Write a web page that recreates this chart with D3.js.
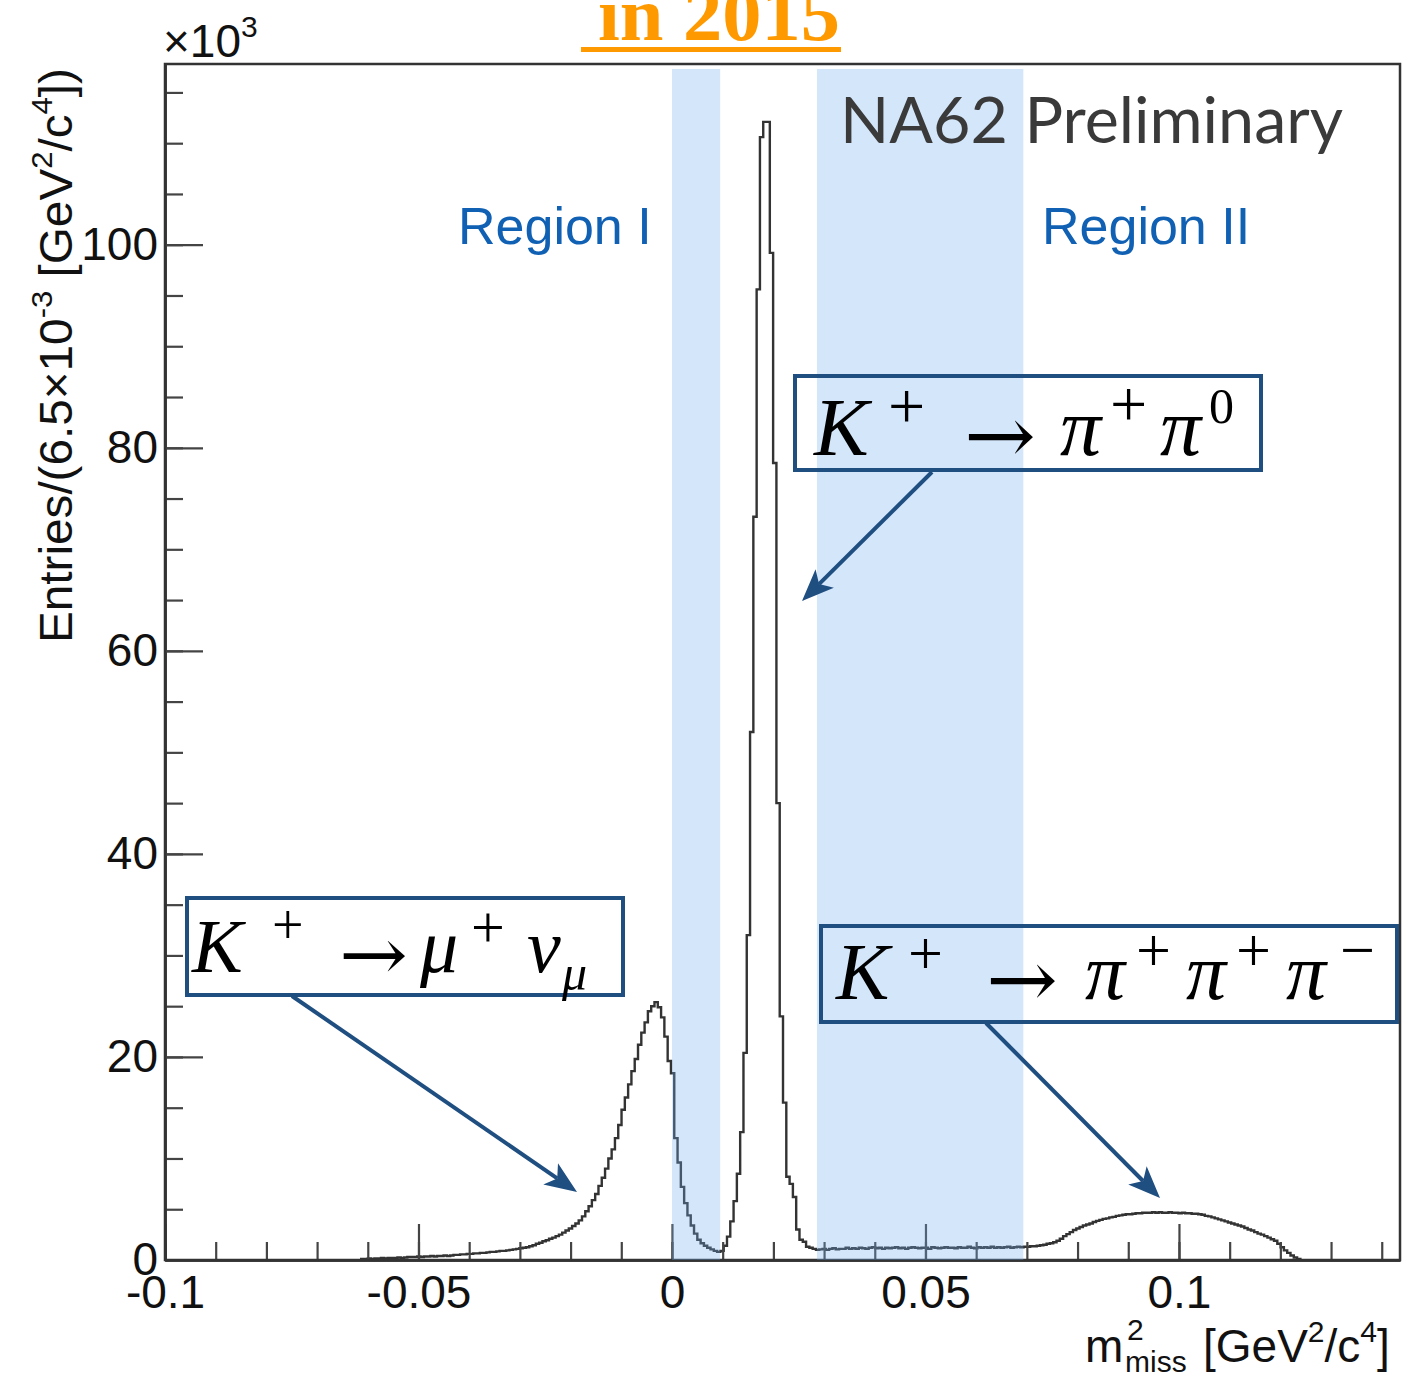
<!DOCTYPE html>
<html>
<head>
<meta charset="utf-8">
<script src="https://cdn.jsdelivr.net/npm/d3@7"></script>
<style>
  body { margin: 0; background: #fff; }
  svg { display: block; }
</style>
</head>
<body>
<script>
// histogram of m2miss, entries in thousands per bin (bin width 6.5e-4)
let binStart = -0.0613;
let binWidth = 0.00065;
let counts = [
  0.1,0.1,0.15,0.1,0.15,0.15,0.2,0.15,0.2,0.2,0.2,0.25,0.2,0.25,
  0.3,0.3,0.3,0.35,0.3,0.35,0.35,0.4,0.35,0.4,0.4,0.45,0.4,0.45,
  0.5,0.5,0.55,0.55,0.6,0.6,0.65,0.65,0.7,0.7,0.75,0.8,0.8,0.85,0.9,0.9,0.95,1.0,1.05,1.1,1.15,
  1.2,1.25,1.35,1.45,1.6,1.7,1.85,1.95,2.1,2.2,
  2.35,2.5,2.7,2.9,3.1,3.35,3.6,3.9,4.3,4.8,
  5.3,5.9,6.5,7.3,8.1,9.0,10.0,10.9,12.0,13.3,
  14.8,16.0,17.3,18.6,19.8,21.2,22.4,23.4,24.5,25.0,
  25.4,24.9,23.9,22.0,19.6,18.4,12.0,9.6,7.2,5.6,
  4.4,3.4,2.6,2.0,1.65,1.4,1.2,1.05,0.9,0.8,
  0.9,1.4,2.3,3.8,5.8,8.5,12.6,20.4,32,52,
  73.2,95.6,110.6,112.1,112.1,99.2,78.5,45,24,15.5,
  8.2,7.5,6.2,3.0,2.0,1.8,1.3,1.2,1.1,1.0,
  1.05,1.1,1.0,1.1,1.15,1.05,1.1,1.1,1.2,1.1,
  1.15,1.1,1.2,1.15,1.1,1.2,1.25,1.15,1.2,1.1,
  1.2,1.15,1.2,1.25,1.15,1.2,1.1,1.2,1.25,1.2,
  1.15,1.2,1.2,1.1,1.25,1.2,1.15,1.2,1.25,1.2,
  1.2,1.15,1.25,1.2,1.2,1.3,1.2,1.15,1.25,1.2,
  1.25,1.2,1.3,1.2,1.25,1.2,1.25,1.3,1.2,1.25,
  1.3,1.25,
  1.3,1.3,1.35,1.35,1.4,
  1.45,1.5,1.6,1.65,1.75,1.9,2.1,2.35,2.55,2.75,
  2.95,3.1,3.25,3.4,3.5,3.6,3.75,3.85,3.95,4.05,
  4.1,4.2,4.25,4.35,4.4,4.45,4.5,4.5,4.55,4.6,
  4.6,4.65,4.65,4.65,4.7,4.65,4.7,4.65,4.65,4.7,
  4.65,4.65,4.6,4.65,4.6,4.6,4.55,4.55,4.5,4.45,
  4.35,4.3,4.2,4.1,4.0,3.9,3.8,3.7,3.6,3.5,
  3.4,3.3,3.15,3.0,2.9,2.75,2.6,2.5,2.35,2.2,
  2.05,1.9,1.6,1.25,0.95,0.7,0.45,0.25,0.1
];
let xTicksMajor = [-0.1, -0.05, 0, 0.05, 0.1];
let xTickLabels = ['-0.1', '-0.05', '0', '0.05', '0.1'];
let yTicksMajor = [0, 20, 40, 60, 80, 100];
let yTickLabels = ['0', '20', '40', '60', '80', '100'];
// signal regions (shaded bands)
let regionNames = ['Region I', 'Region II'];
let regionLow = [0, 0.0286];
let regionHigh = [0.0095, 0.0693];

let width = 1404;
let height = 1375;
let svg = d3.select('body').append('svg')
   .attr('width', width)
   .attr('height', height)
   .style('font-family', '"Liberation Sans", Arial, sans-serif');

let xScale = d3.scaleLinear().domain([-0.1, 0.1436]).range([165, 1400]);
let yScale = d3.scaleLinear().domain([0, 117.8]).range([1260, 64]);

let darkBlue = '#1f4e80';
let textBlue = '#1060b4';

// title fragment cut at the top
svg.append('text')
   .attr('x', 598).attr('y', 40)
   .text('in 2015')
   .attr('fill', '#ff9900')
   .attr('textLength', 242).attr('lengthAdjust', 'spacingAndGlyphs')
   .style('font-family', '"Liberation Serif", "Times New Roman", serif')
   .style('font-weight', 'bold')
   .style('font-size', '76px');
svg.append('rect')
   .attr('x', 581).attr('y', 47).attr('width', 260).attr('height', 5)
   .attr('fill', '#ff9900');

// histogram
let points = [[binStart, 0]];
counts.forEach((v, i) => points.push([binStart + i * binWidth, v]));
points.push([binStart + counts.length * binWidth, counts[counts.length - 1]]);
points.push([binStart + counts.length * binWidth, 0]);

let line = d3.line()
   .x(d => xScale(d[0]))
   .y(d => yScale(d[1]))
   .curve(d3.curveStepAfter);

svg.append('path')
   .datum(points)
   .attr('d', line)
   .attr('fill', 'none')
   .attr('stroke', '#333')
   .attr('stroke-width', 2.4);

// axes (ROOT style, ticks pointing inwards)
let styleAxis = (g) => {
   g.select('.domain').attr('stroke', '#333').attr('stroke-width', 2.5);
   g.selectAll('.tick line').attr('stroke', '#444').attr('stroke-width', 2.2);
   g.selectAll('.tick text').attr('fill', '#111').style('font-size', '46px');
};

svg.append('g')
   .attr('transform', 'translate(0,1260)')
   .call(d3.axisBottom(xScale).tickValues(xScale.ticks(24)).tickSizeInner(-18).tickSizeOuter(0).tickFormat(''))
   .call(styleAxis);
svg.append('g')
   .attr('transform', 'translate(0,1260)')
   .call(d3.axisBottom(xScale).tickValues(xTicksMajor).tickSizeInner(-36).tickSizeOuter(0)
      .tickPadding(15).tickFormat((d, i) => xTickLabels[i]))
   .call(styleAxis);

svg.append('g')
   .attr('transform', 'translate(165,0)')
   .call(d3.axisLeft(yScale).tickValues(yScale.ticks(24)).tickSizeInner(-18).tickSizeOuter(0).tickFormat(''))
   .call(styleAxis);
svg.append('g')
   .attr('transform', 'translate(165,0)')
   .call(d3.axisLeft(yScale).tickValues(yTicksMajor).tickSizeInner(-38).tickSizeOuter(0)
      .tickPadding(7).tickFormat((d, i) => yTickLabels[i]))
   .call(styleAxis);

// frame
svg.append('rect')
   .attr('x', 165).attr('y', 64)
   .attr('width', 1400 - 165).attr('height', 1260 - 64)
   .attr('fill', 'none')
   .attr('stroke', '#333')
   .attr('stroke-width', 2.5);

// x10^3 multiplier
let mult = svg.append('text').attr('x', 163).attr('y', 57).style('font-size', '46px').attr('fill', '#111');
mult.append('tspan').text('\u00d710');
mult.append('tspan').attr('dy', -20).style('font-size', '30px').text('3');

// axis titles
let xt = svg.append('text').attr('fill', '#111').style('font-size', '46px');
xt.append('tspan').attr('x', 1085).attr('y', 1362).text('m');
xt.append('tspan').attr('x', 1127).attr('y', 1340).style('font-size', '30px').text('2');
xt.append('tspan').attr('x', 1125).attr('y', 1372).style('font-size', '30px').text('miss');
xt.append('tspan').attr('x', 1203).attr('y', 1362).text('[GeV');
xt.append('tspan').attr('dy', -20).style('font-size', '30px').text('2');
xt.append('tspan').attr('dy', 20).text('/c');
xt.append('tspan').attr('dy', -20).style('font-size', '30px').text('4');
xt.append('tspan').attr('dy', 20).text(']');

let yt = svg.append('text')
   .attr('transform', 'translate(72,643) rotate(-90)')
   .attr('textLength', 575).attr('lengthAdjust', 'spacingAndGlyphs')
   .attr('fill', '#111')
   .style('font-size', '46px');
yt.append('tspan').text('Entries/(6.5\u00d710');
yt.append('tspan').attr('dy', -20).style('font-size', '30px').text('-3');
yt.append('tspan').attr('dy', 20).text(' [GeV');
yt.append('tspan').attr('dy', -20).style('font-size', '30px').text('2');
yt.append('tspan').attr('dy', 20).text('/c');
yt.append('tspan').attr('dy', -20).style('font-size', '30px').text('4');
yt.append('tspan').attr('dy', 20).text('])');

// shaded regions
svg.selectAll('rect.band')
   .data(regionNames)
   .enter()
   .append('rect')
   .attr('class', 'band')
   .attr('x', (d, i) => xScale(regionLow[i]))
   .attr('width', (d, i) => xScale(regionHigh[i]) - xScale(regionLow[i]))
   .attr('y', 69)
   .attr('height', 1260 - 69)
   .attr('fill', 'rgb(112,172,238)')
   .attr('fill-opacity', 0.3);

// region labels
let regionLabelX = [458, 1042];
svg.selectAll('text.region')
   .data(regionNames)
   .enter()
   .append('text')
   .attr('class', 'region')
   .attr('x', (d, i) => regionLabelX[i])
   .attr('y', 244)
   .attr('fill', textBlue)
   .style('font-size', '52px')
   .text(d => d);

svg.append('text')
   .attr('x', 840).attr('y', 143)
   .attr('fill', '#3a3a3a')
   .attr('textLength', 503).attr('lengthAdjust', 'spacingAndGlyphs')
   .style('font-family', 'Lato, "Open Sans", sans-serif')
   .style('font-size', '64px')
   .text('NA62 Preliminary');

// decay labels in boxes: [char, x, baseline, size, italic, width]
let serif = '"Liberation Serif", "Times New Roman", serif';
let drawGlyphs = (glyphs) => {
   glyphs.forEach(g => {
      let t = svg.append('text')
         .attr('x', g[1]).attr('y', g[2])
         .attr('fill', '#000')
         .style('font-family', g[0] === '\u2192' ? '"DejaVu Serif", serif' : serif)
         .style('font-size', g[3] + 'px')
         .style('font-style', g[4] ? 'italic' : 'normal')
         .text(g[0]);
      if (g[5]) t.attr('textLength', g[5]).attr('lengthAdjust', 'spacingAndGlyphs');
   });
};
let drawBox = (x0, y0, x1, y1) => {
   svg.append('rect')
      .attr('x', x0 + 2).attr('y', y0 + 2)
      .attr('width', x1 - x0 - 4).attr('height', y1 - y0 - 4)
      .attr('fill', 'none')
      .attr('stroke', darkBlue)
      .attr('stroke-width', 4);
};

drawBox(793, 374, 1263, 472);
drawGlyphs([
   ['K', 814, 455, 82, true],
   ['+', 888, 428, 66, false],
   ['\u2192', 964, 463, 80, false, 72],
   ['\u03c0', 1060, 455, 82, true],
   ['+', 1110, 426, 66, false],
   ['\u03c0', 1160, 455, 82, true],
   ['0', 1209, 423, 50, false]
]);

drawBox(185, 896, 625, 997);
drawGlyphs([
   ['K', 192, 972, 76, true],
   ['+', 272, 944, 56, false],
   ['\u2192', 339, 980, 74, false, 69],
   ['\u03bc', 420, 972, 76, true],
   ['+', 471, 947, 60, false],
   ['\u03bd', 527, 972, 76, true],
   ['\u03bc', 562, 990, 50, true]
]);

drawBox(819, 924, 1399, 1024);
drawGlyphs([
   ['K', 836, 999, 80, true],
   ['+', 908, 974, 62, false],
   ['\u2192', 986, 1007, 80, false, 72],
   ['\u03c0', 1085, 999, 80, true],
   ['+', 1136, 971, 62, false],
   ['\u03c0', 1186, 999, 80, true],
   ['+', 1236, 971, 62, false],
   ['\u03c0', 1286, 999, 80, true],
   ['\u2212', 1340, 971, 62, false]
]);

// arrows
let arrowStart = [[932, 472], [292, 996], [986, 1023]];
let arrowTip = [[802, 601], [577, 1192], [1160, 1198]];
arrowTip.forEach((tip, i) => {
   let s = arrowStart[i];
   let dx = tip[0] - s[0], dy = tip[1] - s[1];
   let len = Math.sqrt(dx * dx + dy * dy);
   let ux = dx / len, uy = dy / len;
   let head = 32, half = 13;
   let back = [tip[0] - ux * head, tip[1] - uy * head];
   let notch = [tip[0] - ux * head * 0.75, tip[1] - uy * head * 0.75];
   svg.append('line')
      .attr('x1', s[0]).attr('y1', s[1])
      .attr('x2', notch[0]).attr('y2', notch[1])
      .attr('stroke', darkBlue)
      .attr('stroke-width', 4);
   svg.append('path')
      .attr('d', 'M' + tip[0] + ',' + tip[1] +
         'L' + (back[0] - uy * half) + ',' + (back[1] + ux * half) +
         'L' + notch[0] + ',' + notch[1] +
         'L' + (back[0] + uy * half) + ',' + (back[1] - ux * half) + 'Z')
      .attr('fill', darkBlue);
});
</script>
</body>
</html>
